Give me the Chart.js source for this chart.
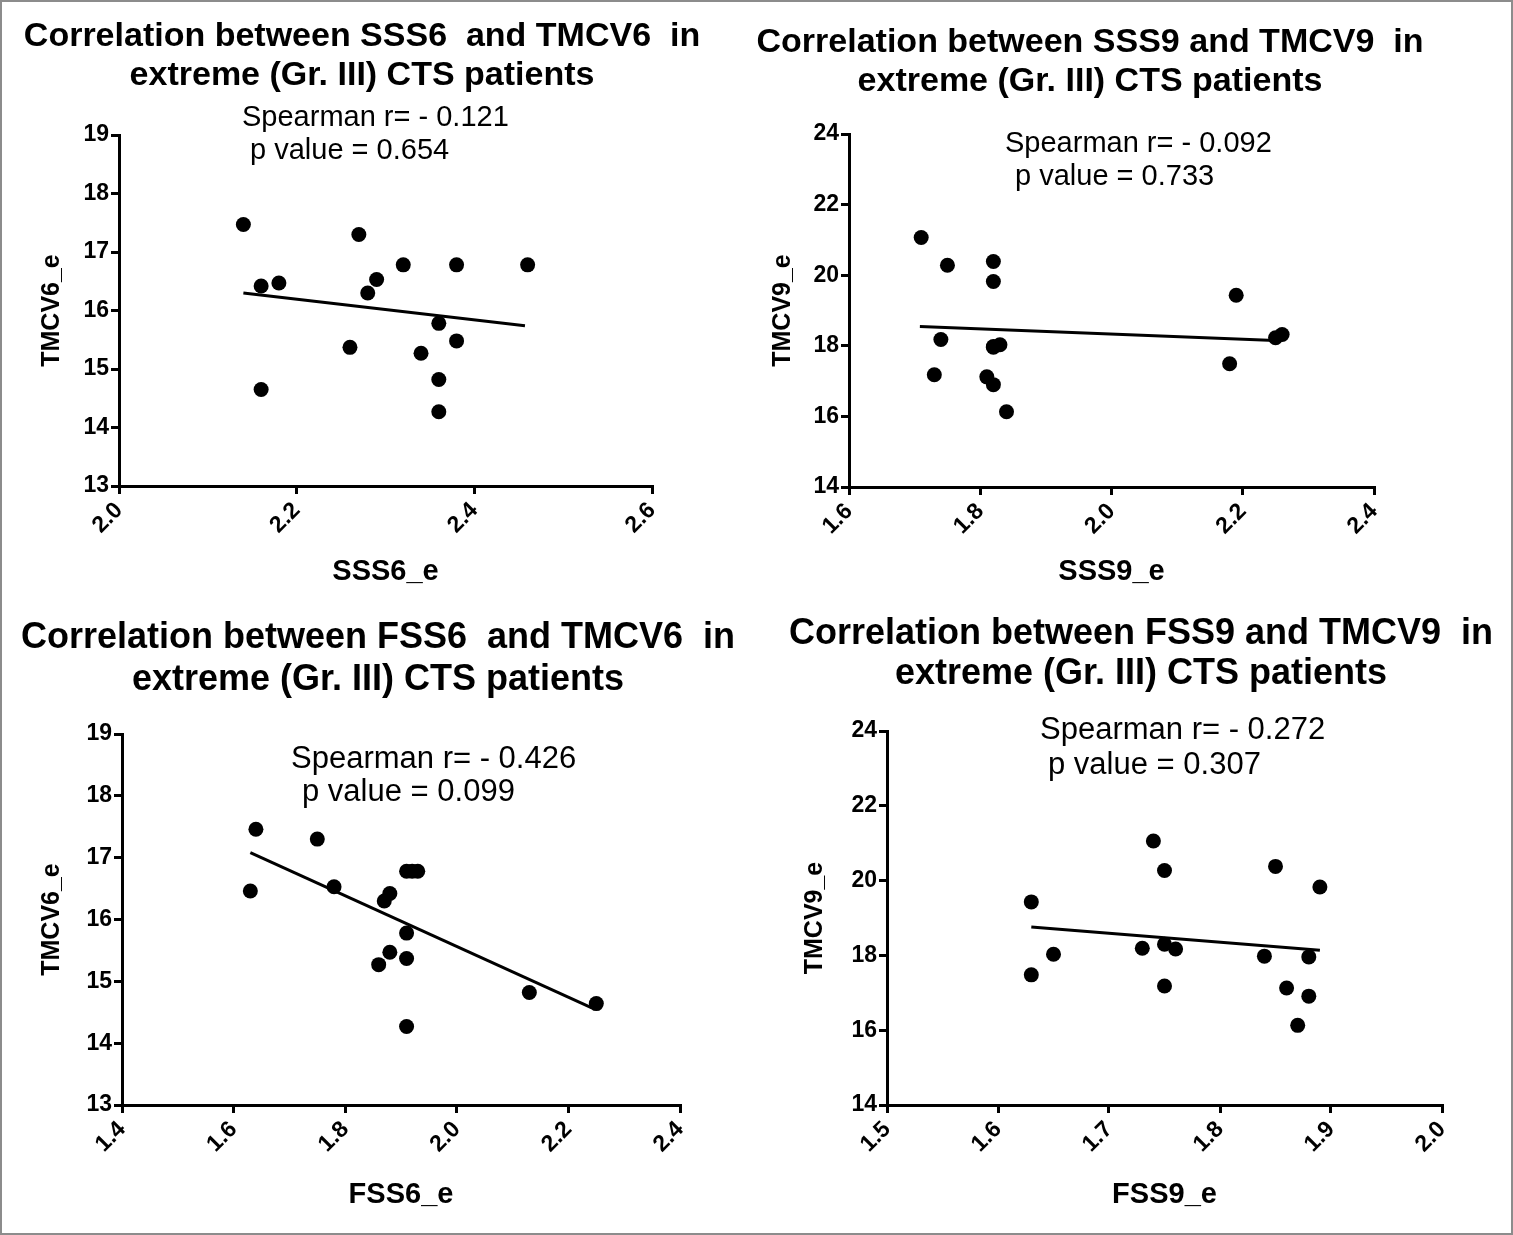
<!DOCTYPE html>
<html>
<head>
<meta charset="utf-8">
<title>Correlation in extreme (Gr. III) CTS patients</title>
<script src="https://cdn.jsdelivr.net/npm/chart.js@4.4.0/dist/chart.umd.min.js"></script>
<style>
  body { margin: 0; background: #fff; }
  #page { position: relative; width: 1513px; height: 1235px; overflow: hidden; background: #fff; }
  .panel { position: absolute; }
  #frame { position: absolute; left: 0; top: 0; width: 1513px; height: 1235px; box-sizing: border-box;
           border: 2px solid #8c8c8c; pointer-events: none; }
</style>
</head>
<body>
<div id="page">
  <div class="panel" style="left:0;top:0"><canvas id="c1" width="756" height="617"></canvas></div>
  <div class="panel" style="left:756px;top:0"><canvas id="c2" width="757" height="617"></canvas></div>
  <div class="panel" style="left:0;top:617px"><canvas id="c3" width="756" height="618"></canvas></div>
  <div class="panel" style="left:756px;top:617px"><canvas id="c4" width="757" height="618"></canvas></div>
  <div id="frame"></div>
</div>
<script>
// SSS6_e vs TMCV6_e
const sss6 = [2.14, 2.16, 2.18, 2.16, 2.26, 2.27, 2.28, 2.29, 2.32, 2.34, 2.36, 2.36, 2.36, 2.38, 2.38, 2.46];
const sss6Tmcv6 = [17.47, 16.42, 16.47, 14.65, 15.37, 17.30, 16.30, 16.53, 16.78, 15.27, 15.78, 14.82, 14.27, 16.78, 15.48, 16.78];
const sss6FitX = [2.14, 2.457];
const sss6FitY = [16.30, 15.74];

// SSS9_e vs TMCV9_e
const sss9 = [1.71, 1.75, 1.82, 1.82, 2.19, 1.74, 1.82, 1.83, 1.82, 1.73, 1.81, 1.82, 1.84, 2.18, 2.25, 2.26];
const sss9Tmcv9 = [21.07, 20.28, 20.39, 19.82, 19.43, 18.18, 17.98, 18.03, 17.96, 17.18, 17.12, 16.90, 16.13, 17.49, 18.23, 18.32];
const sss9FitX = [1.708, 2.249];
const sss9FitY = [18.55, 18.15];

// FSS6_e vs TMCV6_e
const fss6 = [1.64, 1.63, 1.75, 1.78, 1.87, 1.88, 1.91, 1.92, 1.93, 1.91, 1.88, 1.86, 1.91, 1.91, 2.13, 2.25];
const fss6Tmcv6 = [17.46, 16.46, 17.30, 16.53, 16.30, 16.42, 16.78, 16.78, 16.78, 15.78, 15.47, 15.27, 15.37, 14.27, 14.82, 14.64];
const fss6FitX = [1.63, 2.242];
const fss6FitY = [17.08, 14.57];

// FSS9_e vs TMCV9_e
const fss9 = [1.63, 1.63, 1.65, 1.74, 1.75, 1.73, 1.75, 1.76, 1.75, 1.85, 1.89, 1.84, 1.88, 1.86, 1.88, 1.87];
const fss9Tmcv9 = [19.43, 17.48, 18.03, 21.06, 20.27, 18.19, 18.30, 18.17, 17.18, 20.38, 19.83, 17.98, 17.96, 17.13, 16.91, 16.13];
const fss9FitX = [1.63, 1.89];
const fss9FitY = [18.76, 18.14];

// tick labels
const sss6Ticks = [2.0, 2.2, 2.4, 2.6];
const sss9Ticks = [1.6, 1.8, 2.0, 2.2, 2.4];
const fss6Ticks = [1.4, 1.6, 1.8, 2.0, 2.2, 2.4];
const fss9Ticks = [1.5, 1.6, 1.7, 1.8, 1.9, 2.0];
const tmcv6Ticks = [13, 14, 15, 16, 17, 18, 19];
const tmcv9Ticks = [14, 16, 18, 20, 22, 24];

// titles and statistics
const titleLine2 = 'extreme (Gr. III) CTS patients';
const spearmanR = ['- 0.121', '- 0.092', '- 0.426', '- 0.272'];
const pValues = ['0.654', '0.733', '0.099', '0.307'];

const FONT = '"Liberation Sans", Arial, Helvetica, sans-serif';
Chart.defaults.font.family = FONT;
Chart.defaults.color = '#000';

// draws the two-line heading and the Spearman note on each panel
const panelText = {
  id: 'panelText',
  afterDraw(chart, args, opts) {
    const ctx = chart.ctx;
    ctx.save();
    ctx.fillStyle = '#000';
    ctx.textBaseline = 'middle';
    (opts.items || []).forEach(it => {
      ctx.font = it.font;
      ctx.textAlign = it.align || 'left';
      ctx.fillText(it.text, it.x, it.y);
    });
    ctx.restore();
  }
};
Chart.register(panelText);

function axisStyle(ticksArr, label, size, fmt, rotated) {
  return {
    type: 'linear',
    min: ticksArr[0],
    max: ticksArr[ticksArr.length - 1],
    afterBuildTicks: s => { s.ticks = ticksArr.map(v => ({ value: v })); },
    afterFit: s => {
      if (rotated) s.height = size; else s.width = size;
      s.paddingLeft = 0; s.paddingRight = 0; s.paddingTop = 0; s.paddingBottom = 0;
    },
    ticks: {
      font: { size: 23, weight: 'bold' },
      color: '#000',
      padding: rotated ? 3 : 2,
      minRotation: rotated ? 45 : 0,
      maxRotation: rotated ? 45 : 0,
      autoSkip: false,
      callback: fmt
    },
    grid: { drawOnChartArea: false, drawTicks: true, tickLength: 8, lineWidth: 3, color: '#000' },
    border: { display: true, color: '#000', width: 3 },
    title: { display: true, text: label, font: { size: rotated ? 29 : 25, weight: 'bold' }, color: '#000', padding: 0 }
  };
}

function makePanel(id, p) {
  new Chart(document.getElementById(id), {
    type: 'scatter',
    data: {
      datasets: [
        {
          data: p.x.map((v, i) => ({ x: v, y: p.y[i] })),
          backgroundColor: '#000',
          borderWidth: 0,
          pointRadius: 7.5,
          pointHoverRadius: 7.5
        },
        {
          type: 'line',
          data: p.fitX.map((v, i) => ({ x: v, y: p.fitY[i] })),
          borderColor: '#000',
          borderWidth: 3,
          pointRadius: 0,
          fill: false
        }
      ]
    },
    options: {
      responsive: false,
      animation: false,
      events: [],
      layout: { padding: p.pad },
      plugins: {
        legend: { display: false },
        tooltip: { enabled: false },
        panelText: { items: p.text }
      },
      scales: {
        x: axisStyle(p.xTicks, p.xLabel, p.xH, v => v.toFixed(1), true),
        y: axisStyle(p.yTicks, p.yLabel, p.yW, v => String(v), false)
      }
    }
  });
}

function notes(title1, tsize, tx, ty1, ty2, idx, nsize, nx1, ny1, nx2, ny2) {
  return [
    { text: title1, x: tx, y: ty1, align: 'center', font: 'bold ' + tsize + 'px ' + FONT },
    { text: titleLine2, x: tx, y: ty2, align: 'center', font: 'bold ' + tsize + 'px ' + FONT },
    { text: 'Spearman r= ' + spearmanR[idx], x: nx1, y: ny1, font: nsize + 'px ' + FONT },
    { text: 'p value = ' + pValues[idx], x: nx2, y: ny2, font: nsize + 'px ' + FONT }
  ];
}

makePanel('c1', {
  x: sss6, y: sss6Tmcv6, fitX: sss6FitX, fitY: sss6FitY,
  xTicks: sss6Ticks, yTicks: tmcv6Ticks, xLabel: 'SSS6_e', yLabel: 'TMCV6_e',
  pad: { left: 37, top: 135, right: 104, bottom: 28 }, yW: 82, xH: 103,
  text: notes('Correlation between SSS6  and TMCV6  in', 34, 362, 37, 76, 0, 29, 242, 118, 250, 151)
});

makePanel('c2', {
  x: sss9, y: sss9Tmcv9, fitX: sss9FitX, fitY: sss9FitY,
  xTicks: sss9Ticks, yTicks: tmcv9Ticks, xLabel: 'SSS9_e', yLabel: 'TMCV9_e',
  pad: { left: 12, top: 134, right: 139, bottom: 28 }, yW: 81, xH: 102,
  text: notes('Correlation between SSS9 and TMCV9  in', 34, 334, 43, 82, 1, 29, 249, 144, 259, 177)
});

makePanel('c3', {
  x: fss6, y: fss6Tmcv6, fitX: fss6FitX, fitY: fss6FitY,
  xTicks: fss6Ticks, yTicks: tmcv6Ticks, xLabel: 'FSS6_e', yLabel: 'TMCV6_e',
  pad: { left: 37, top: 117, right: 76, bottom: 23 }, yW: 85, xH: 107,
  text: notes('Correlation between FSS6  and TMCV6  in', 36, 378, 21, 63, 2, 31, 291, 142, 302, 175)
});

makePanel('c4', {
  x: fss9, y: fss9Tmcv9, fitX: fss9FitX, fitY: fss9FitY,
  xTicks: fss9Ticks, yTicks: tmcv9Ticks, xLabel: 'FSS9_e', yLabel: 'TMCV9_e',
  pad: { left: 44, top: 114, right: 71, bottom: 23 }, yW: 87, xH: 107,
  text: notes('Correlation between FSS9 and TMCV9  in', 36, 385, 17, 57, 3, 31, 284, 113, 292, 148)
});
</script>
</body>
</html>
